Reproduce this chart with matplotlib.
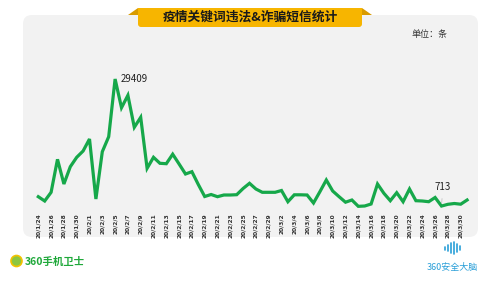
import matplotlib.pyplot as plt
import matplotlib.patches as mpatches
from matplotlib.patches import FancyBboxPatch, Polygon, Circle
import datetime as dt

plt.rcParams['font.family'] = ['Noto Sans CJK SC', 'DejaVu Sans']

# data: daily counts 2020-01-24 .. 2020-03-31
start = dt.date(2020, 1, 24)
counts = [2824, 1852, 3818, 11272, 5693, 9601, 11724, 13147, 15858, 2304,
          12989, 16378, 29409, 22929, 25730, 18501, 20760, 9239, 11724, 10369,
          10278, 12425, 10211, 7952, 8471, 5580, 2869, 3321, 2824, 3208,
          3208, 3276, 4676, 5851, 4563, 3818, 3818, 3818, 4224, 1694,
          3253, 3253, 3208, 1401, 3953, 6596, 4111, 2824, 1581, 2078,
          650, 723, 1175, 5693, 3592, 1920, 3727, 1694, 4563, 1920,
          1852, 1694, 2643, 713, 1107, 1288, 1130, 2078]
days = [start + dt.timedelta(days=i) for i in range(len(counts))]
tick_labels = ['%d/%d/%d' % (d.year % 100, d.month, d.day) for d in days]
title = '疫情关键词违法&诈骗短信统计'
unit = '单位：条'
peak_idx, low_idx = 12, 63

fig = plt.figure(figsize=(5, 2.81), dpi=100)

# background layer in pixel coords
bg = fig.add_axes([0, 0, 1, 1])
bg.set_xlim(0, 500)
bg.set_ylim(281, 0)
bg.axis('off')

panel = FancyBboxPatch((23, 15), 455, 222, boxstyle='round,pad=0,rounding_size=9',
                       fc='#f2f2f2', ec='none')
bg.add_patch(panel)

# title banner
bg.add_patch(Polygon([(128, 15), (138, 8), (138, 15)], closed=True, fc='#d99b00', ec='none'))
bg.add_patch(Polygon([(372, 15), (362, 8), (362, 15)], closed=True, fc='#d99b00', ec='none'))
bg.add_patch(FancyBboxPatch((138, 8), 224, 19, boxstyle='round,pad=0,rounding_size=3',
                            fc='#f7b500', ec='none'))
bg.add_patch(mpatches.Rectangle((138, 8), 224, 8, fc='#f7b500', ec='none'))
bg.text(250, 17.5, title, ha='center', va='center', fontsize=9.2,
        fontweight='bold', color='#1a1a1a')
bg.text(429, 35, unit, ha='center', va='center', fontsize=6.5, color='#333333')

# bottom logos
bg.add_patch(Circle((16.5, 261), 5.5, fc='#8cc63f', ec='#f2c200', lw=1.2))
bg.text(25, 261.5, '360手机卫士', ha='left', va='center', fontsize=7.5,
        color='#1fa83a', fontweight='bold')
bars_x = [445, 448, 451, 454, 457, 460]
bars_h = [3, 6, 10, 12, 8, 4]
for bx, bh in zip(bars_x, bars_h):
    bg.plot([bx, bx], [248 - bh / 2, 248 + bh / 2], color='#2a9fd8', lw=1.2,
            solid_capstyle='round')
bg.text(452, 267, '360安全大脑', ha='center', va='center', fontsize=6.5,
        color='#2a9fd8')

# main chart
ax = fig.add_axes([0.0766, 0.2555, 0.8576, 0.4726])
ax.patch.set_alpha(0)
x = list(range(len(counts)))
ax.plot(x, counts, color='#16a84a', lw=2.3, solid_joinstyle='miter', clip_on=False)
ax.set_xlim(0, len(counts) - 1)
ax.set_ylim(0, 30000)
for s in ax.spines.values():
    s.set_visible(False)
ax.set_yticks([])
ticks = x[::2][:34]
ax.set_xticks(ticks)
ax.set_xticklabels([tick_labels[i] for i in ticks], rotation=90, fontsize=4.2,
                   color='#333333', fontweight='bold', family='DejaVu Sans')
ax.tick_params(axis='x', length=0, pad=3)

ax.annotate(str(counts[peak_idx]), (peak_idx, counts[peak_idx]), xytext=(4, 0),
            textcoords='offset points', ha='left', va='center', fontsize=7,
            color='#222222')
ax.annotate(str(counts[low_idx]), (low_idx, counts[low_idx]), xytext=(1, 14),
            textcoords='offset points', ha='center', va='center', fontsize=7,
            color='#222222',
            arrowprops=dict(arrowstyle='-', color='#bbbbbb', lw=0.5,
                            shrinkA=3, shrinkB=2))

fig.savefig('out.png', dpi=100)
